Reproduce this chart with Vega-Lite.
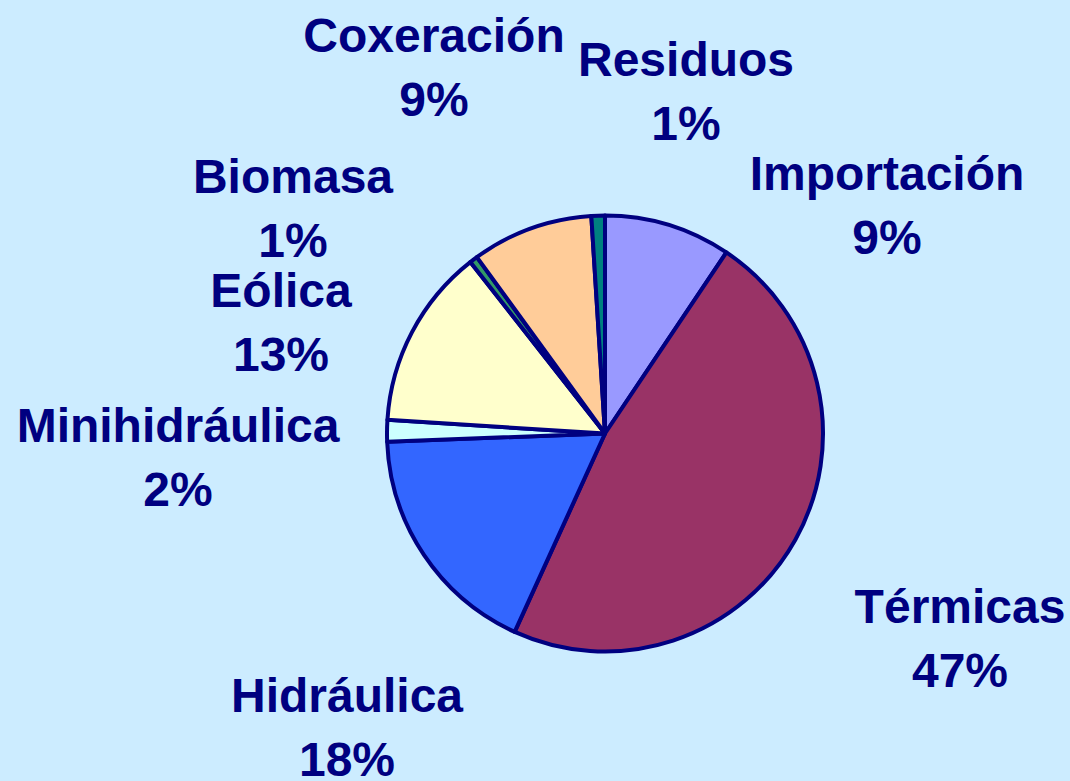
{
  "$schema": "https://vega.github.io/schema/vega-lite/v6.json",
  "width": 930,
  "height": 695,
  "autosize": {"type": "none"},
  "padding": {"left": 140, "top": 86, "right": 0, "bottom": 0},
  "background": "#CCECFF",
  "config": {"view": {"stroke": null}},
  "data": {
    "values": [
      {"id": 1, "cat": "Importación", "value": 9.4},
      {"id": 2, "cat": "Térmicas", "value": 47.4},
      {"id": 3, "cat": "Hidráulica", "value": 17.6},
      {"id": 4, "cat": "Minihidráulica", "value": 1.6},
      {"id": 5, "cat": "Eólica", "value": 13.4},
      {"id": 6, "cat": "Biomasa", "value": 0.6},
      {"id": 7, "cat": "Coxeración", "value": 9.0},
      {"id": 8, "cat": "Residuos", "value": 1.0}
    ]
  },
  "transform": [
    {"calculate": "[datum.cat, format(datum.value, '.0f') + '%']", "as": "label"}
  ],
  "layer": [
    {
      "mark": {"type": "arc", "outerRadius": 218, "stroke": "#000080", "strokeWidth": 4, "strokeJoin": "round"},
      "encoding": {
        "theta": {"field": "value", "type": "quantitative", "stack": true},
        "order": {"field": "id", "type": "quantitative"},
        "color": {
          "field": "cat",
          "type": "nominal",
          "scale": {
            "domain": ["Importación", "Térmicas", "Hidráulica", "Minihidráulica", "Eólica", "Biomasa", "Coxeración", "Residuos"],
            "range": ["#9999FF", "#993366", "#3366FF", "#CCFFFF", "#FFFFCC", "#339966", "#FFCC99", "#008080"]
          },
          "legend": null
        }
      }
    },
    {
      "mark": {
        "type": "text",
        "font": "Liberation Sans",
        "fontWeight": "bold",
        "fontSize": 48,
        "color": "#000080",
        "align": "center",
        "baseline": "top",
        "lineHeight": 64,
        "dx": {"expr": "[282,355,-258,-427,-324,-312,-171,81][datum.id-1]"},
        "dy": {"expr": "[-281.5,151.5,240.5,-29.5,-164.5,-278.5,-419.5,-395.5][datum.id-1]"}
      },
      "encoding": {
        "text": {"field": "label", "type": "nominal"}
      }
    }
  ]
}
